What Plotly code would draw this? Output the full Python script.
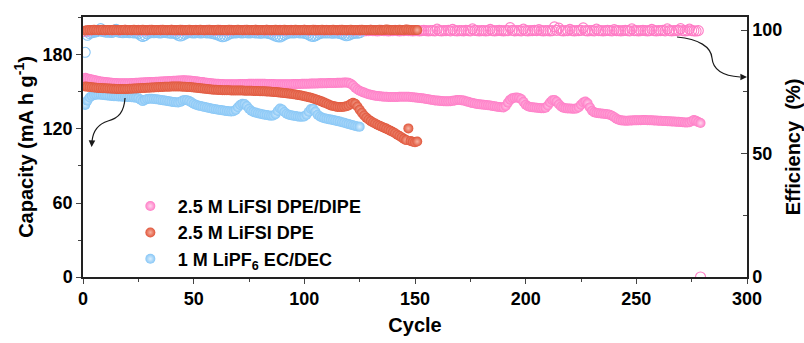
import plotly.graph_objects as go

# ---------------- data ----------------
# 2.5 M LiFSI DPE/DIPE : discharge capacity (mA h g-1) and coulombic efficiency (%)
cap_dipe = [
    161.5, 161.0, 160.5, 160.1, 159.7, 159.3, 158.9, 158.6, 158.3, 158.0,
    157.8, 157.6, 157.4, 157.3, 157.2, 157.1, 157.0, 157.0, 157.0, 157.0,
    157.1, 157.2, 157.3, 157.4, 157.5, 157.6, 157.7, 157.8, 157.9, 158.0,
    158.1, 158.2, 158.3, 158.4, 158.5, 158.6, 158.7, 158.8, 158.9, 159.0,
    159.1, 159.2, 159.3, 159.4, 159.5, 159.5, 159.4, 159.3, 159.1, 158.9,
    158.7, 158.5, 158.2, 158.0, 157.7, 157.5, 157.3, 157.1, 156.9, 156.7,
    156.6, 156.5, 156.4, 156.3, 156.2, 156.2, 156.2, 156.2, 156.3, 156.3,
    156.4, 156.4, 156.5, 156.5, 156.6, 156.6, 156.7, 156.7, 156.7, 156.7,
    156.6, 156.6, 156.5, 156.5, 156.4, 156.4, 156.3, 156.3, 156.2, 156.2,
    156.2, 156.2, 156.3, 156.3, 156.4, 156.4, 156.5, 156.5, 156.6, 156.6,
    156.7, 156.7, 156.8, 156.8, 156.9, 156.9, 157.0, 157.0, 157.1, 157.1,
    157.2, 157.2, 157.3, 157.3, 157.4, 157.4, 157.5, 157.6, 157.6, 157.4,
    156.6, 155.2, 153.5, 152.0, 151.0, 150.2, 149.5, 148.8, 148.2, 147.7,
    147.3, 147.0, 146.7, 146.5, 146.3, 146.2, 146.1, 146.0, 146.0, 146.0,
    146.0, 146.0, 146.1, 146.1, 146.2, 146.2, 146.1, 146.0, 145.8, 145.6,
    145.4, 145.2, 145.0, 144.7, 144.4, 144.1, 143.8, 143.5, 143.2, 143.0,
    142.8, 142.6, 142.5, 142.4, 142.4, 142.5, 142.8, 143.2, 143.5, 143.6,
    143.4, 143.0, 142.5, 142.0, 141.5, 141.0, 140.6, 140.3, 140.0, 139.8,
    139.6, 139.4, 139.2, 139.0, 138.7, 138.4, 138.1, 137.8, 137.6, 137.5,
    138.6, 141.4, 143.8, 145.0, 145.4, 145.5, 145.2, 144.2, 142.0, 139.6,
    138.4, 137.9, 137.6, 137.4, 137.2, 137.0, 136.9, 136.8, 137.2, 139.0,
    141.5, 143.3, 143.5, 142.2, 140.0, 138.2, 137.3, 136.9, 136.7, 136.6,
    136.5, 136.5, 136.7, 137.6, 139.6, 141.5, 142.2, 140.8, 137.5, 134.8,
    133.5, 133.0, 132.8, 132.6, 132.4, 132.2, 132.0, 131.6, 130.8, 129.6,
    128.4, 127.5, 127.0, 126.8, 126.7, 126.7, 126.8, 126.9, 127.0, 127.0,
    127.1, 127.1, 127.2, 127.2, 127.1, 127.1, 127.0, 126.9, 126.8, 126.7,
    126.6, 126.5, 126.4, 126.3, 126.2, 126.1, 126.0, 125.9, 125.8, 125.6,
    125.5, 125.3, 125.2, 125.4, 126.3, 127.2, 126.6, 125.6, 124.8,
]
eff_dipe = [
    99.4, 99.6, 99.7, 99.7, 99.8, 99.7, 99.8, 99.8, 99.7, 99.8,
    99.8, 99.7, 99.8, 99.9, 99.8, 99.7, 99.8, 99.8, 99.9, 99.8,
    99.7, 99.8, 99.8, 99.7, 99.9, 99.8, 99.8, 99.7, 99.8, 99.9,
    99.8, 99.8, 99.7, 99.8, 99.9, 99.8, 99.7, 99.8, 99.8, 99.9,
    99.8, 99.7, 99.8, 99.8, 99.9, 99.8, 99.8, 99.7, 99.8, 99.8,
    99.9, 99.8, 99.7, 99.8, 99.8, 99.9, 99.8, 99.7, 99.8, 99.8,
    99.8, 99.9, 99.8, 99.7, 99.8, 99.8, 99.9, 99.8, 99.8, 99.7,
    99.8, 99.8, 99.9, 99.8, 99.7, 99.8, 99.8, 99.9, 99.8, 99.8,
    99.7, 99.8, 99.9, 99.8, 99.8, 99.7, 99.8, 99.8, 99.9, 99.8,
    99.8, 99.7, 99.8, 99.9, 99.8, 99.8, 99.7, 99.8, 99.8, 99.9,
    99.8, 99.7, 99.8, 99.8, 99.9, 99.8, 99.8, 99.7, 99.8, 99.9,
    99.8, 99.8, 99.7, 99.8, 99.8, 99.9, 99.8, 99.7, 99.8, 99.8,
    99.6, 99.7, 99.8, 99.8, 99.9, 99.8, 99.7, 99.8, 99.8, 99.9,
    99.8, 99.8, 99.7, 99.8, 99.9, 99.8, 99.8, 99.7, 99.8, 99.8,
    99.9, 99.8, 99.7, 99.8, 99.8, 99.9, 99.8, 99.8, 99.7, 99.8,
    99.8, 99.7, 99.8, 99.9, 99.8, 99.7, 99.8, 99.8, 99.7, 100.4,
    99.8, 99.7, 99.8, 99.8, 99.9, 99.7, 100.3, 99.8, 99.7, 99.8,
    99.8, 99.7, 99.9, 99.8, 99.7, 100.5, 99.9, 99.8, 99.7, 99.8,
    99.8, 99.7, 99.8, 100.3, 99.8, 99.7, 99.8, 99.9, 99.8, 99.7,
    99.8, 99.8, 101.0, 99.9, 99.7, 99.8, 99.8, 99.7, 100.4, 99.8,
    99.7, 99.8, 99.8, 99.9, 99.8, 100.2, 99.8, 99.7, 99.8, 99.8,
    99.7, 99.8, 101.3, 99.9, 100.8, 99.8, 99.7, 99.8, 99.8, 100.3,
    99.8, 99.7, 99.8, 99.8, 99.9, 100.9, 99.8, 99.7, 99.8, 99.8,
    99.7, 100.4, 99.8, 99.8, 99.7, 99.8, 99.9, 99.8, 99.7, 100.2,
    99.8, 99.8, 99.7, 99.8, 99.9, 99.8, 99.7, 100.5, 99.8, 99.8,
    99.7, 99.8, 99.9, 99.8, 99.7, 99.8, 100.3, 99.8, 99.7, 99.8,
    99.8, 99.9, 99.7, 100.5, 99.8, 99.7, 99.8, 99.8, 99.9, 100.6,
    99.8, 99.7, 99.8, 100.4, 99.8, 99.7, 99.6, 99.8, 0.0,
]

# 2.5 M LiFSI DPE
cap_dpe = [
    154.5, 154.2, 154.0, 153.8, 153.6, 153.4, 153.3, 153.2, 153.1, 153.0,
    152.9, 152.8, 152.7, 152.6, 152.5, 152.5, 152.4, 152.4, 152.5, 152.5,
    152.6, 152.7, 152.8, 152.9, 153.0, 153.1, 153.2, 153.3, 153.4, 153.5,
    153.6, 153.7, 153.8, 153.9, 154.0, 154.1, 154.2, 154.3, 154.3, 154.4,
    154.4, 154.5, 154.5, 154.4, 154.3, 154.2, 154.1, 154.0, 153.8, 153.6,
    153.4, 153.2, 153.0, 152.8, 152.6, 152.4, 152.2, 152.0, 151.9, 151.8,
    151.7, 151.6, 151.5, 151.5, 151.4, 151.4, 151.3, 151.3, 151.3, 151.2,
    151.2, 151.2, 151.1, 151.1, 151.0, 151.0, 150.9, 150.8, 150.8, 150.7,
    150.6, 150.5, 150.4, 150.3, 150.2, 150.0, 149.9, 149.7, 149.5, 149.3,
    149.1, 148.9, 148.7, 148.5, 148.2, 147.9, 147.6, 147.3, 147.0, 146.6,
    146.2, 145.8, 145.3, 144.8, 144.2, 143.6, 142.9, 142.2, 141.4, 140.6,
    139.8, 139.1, 138.6, 138.2, 137.9, 137.8, 137.8, 138.0, 138.4, 139.1,
    140.2, 141.3, 140.5, 138.2, 135.6, 133.2, 131.0, 129.2, 127.7, 126.4,
    125.3, 124.4, 123.5, 122.7, 121.9, 121.1, 120.3, 119.4, 118.5, 117.5,
    116.5, 115.4, 114.3, 113.2, 112.0, 111.0, 120.5, 110.3, 109.6, 109.2,
    109.8,
]
eff_dpe = [
    99.8, 99.9, 100.0, 99.9, 100.1, 100.0, 99.9, 100.0, 100.1, 99.9,
    100.0, 100.0, 99.9, 100.1, 100.0, 99.9, 100.0, 100.0, 100.1, 99.9,
    100.0, 99.9, 100.1, 100.0, 99.9, 100.0, 100.1, 100.0, 99.9, 100.0,
    100.1, 99.9, 100.0, 100.0, 99.9, 100.1, 100.0, 99.9, 100.0, 100.1,
    100.0, 99.9, 100.0, 100.1, 99.9, 100.0, 100.0, 100.1, 99.9, 100.0,
    100.0, 99.9, 100.1, 100.0, 99.9, 100.0, 100.1, 100.0, 99.9, 100.0,
    100.1, 99.9, 100.0, 100.0, 99.9, 100.1, 100.0, 99.9, 100.0, 100.1,
    100.0, 99.9, 100.0, 100.1, 99.9, 100.0, 100.0, 100.1, 99.9, 100.0,
    100.0, 99.9, 100.1, 100.0, 99.9, 100.0, 100.1, 100.0, 99.9, 100.0,
    100.1, 99.9, 100.0, 100.0, 99.9, 100.1, 100.0, 99.9, 100.0, 100.1,
    100.0, 99.9, 100.0, 100.1, 99.9, 100.0, 100.0, 100.1, 99.9, 100.0,
    100.0, 99.9, 100.1, 100.0, 99.9, 100.0, 100.1, 100.0, 99.9, 100.0,
    100.1, 99.9, 100.0, 100.0, 99.9, 100.1, 100.0, 99.9, 100.0, 100.1,
    100.0, 99.9, 100.0, 100.1, 99.9, 100.0, 100.2, 100.1, 99.9, 100.0,
    100.0, 99.9, 100.1, 100.0, 99.9, 100.2, 100.1, 100.0, 99.9, 100.0,
    100.0,
]

# 1 M LiPF6 EC/DEC
cap_lipf6 = [
    139.5, 143.0, 145.5, 146.8, 147.5, 147.8, 147.9, 147.8, 147.6, 147.4,
    147.2, 147.0, 146.8, 146.6, 146.5, 146.4, 146.3, 146.2, 146.1, 146.0,
    145.9, 145.8, 145.6, 145.4, 145.0, 143.8, 142.6, 143.6, 144.4, 144.6,
    144.5, 144.3, 144.1, 143.9, 143.6, 143.3, 143.0, 142.7, 142.4, 142.1,
    141.8, 141.6, 141.5, 142.0, 143.0, 143.6, 143.4, 142.6, 141.6, 140.5,
    139.7, 139.1, 138.6, 138.2, 137.8, 137.4, 137.0, 136.6, 136.3, 136.0,
    135.7, 135.4, 135.1, 134.8, 134.5, 134.3, 134.2, 134.4, 135.5, 137.6,
    139.5, 140.4, 140.2, 138.6, 136.4, 134.8, 133.9, 133.3, 132.8, 132.4,
    132.0, 131.6, 131.3, 131.0, 130.8, 130.9, 132.0, 134.6, 136.6, 135.8,
    133.8, 132.4, 131.6, 131.1, 130.8, 130.5, 130.2, 130.0, 129.9, 130.2,
    131.5, 134.0, 136.2, 136.4, 134.2, 131.6, 130.1, 129.3, 128.8, 128.4,
    128.0, 127.6, 127.2, 126.8, 126.4, 126.0, 125.5, 125.0, 124.5, 124.0,
    123.5, 123.0, 122.5, 122.1, 121.8,
]
eff_lipf6 = [
    91.0, 97.9, 98.6, 98.9, 99.1, 99.3, 99.6, 100.6, 99.4, 99.2,
    99.1, 99.2, 99.0, 99.3, 100.3, 99.2, 99.0, 98.9, 99.1, 99.0,
    98.9, 99.0, 98.8, 98.9, 98.6, 97.9, 97.4, 97.8, 98.5, 98.8,
    99.0, 98.9, 99.1, 98.9, 98.8, 99.0, 99.1, 98.9, 98.8, 98.7,
    98.8, 98.5, 97.9, 97.6, 97.9, 98.4, 98.8, 99.0, 98.9, 98.8,
    98.9, 99.0, 98.8, 98.9, 99.0, 98.8, 98.9, 98.7, 98.5, 98.3,
    98.0, 97.6, 97.3, 97.5, 97.9, 98.4, 98.7, 98.9, 98.8, 99.0,
    98.9, 98.8, 99.0, 98.9, 98.8, 98.9, 99.0, 98.8, 98.9, 98.7,
    98.8, 98.9, 98.8, 98.6, 98.4, 98.0, 97.6, 97.3, 97.2, 97.6,
    98.1, 98.5, 98.8, 98.9, 98.8, 98.9, 99.0, 98.8, 98.9, 98.7,
    98.5, 98.1, 97.6, 97.4, 97.7, 98.2, 98.6, 98.8, 98.9, 98.8,
    98.9, 98.8, 98.7, 98.9, 98.8, 98.6, 98.4, 98.0, 97.7, 97.9,
    98.3, 98.6, 98.8, 98.7, 98.9,
]

cyc_dipe = list(range(1, len(cap_dipe) + 1))
cyc_dpe = list(range(1, len(cap_dpe) + 1))
cyc_lipf6 = list(range(1, len(cap_lipf6) + 1))

x_ticks = [0, 50, 100, 150, 200, 250, 300]
cap_ticks = [0, 60, 120, 180]
eff_ticks = [0, 50, 100]

# ---------------- styling ----------------
PINK, PINK_HI = "#FF7CC6", "#FFD6EE"
RED, RED_HI = "#E0553A", "#F7B3A2"
BLUE, BLUE_HI = "#86C6F6", "#DCEFFD"
FONT = "Liberation Sans, Arial, Helvetica, sans-serif"
MS = 10


def ball(color, hi, size=MS):
    return dict(symbol="circle", size=size, color=color,
                gradient=dict(type="radial", color=hi), line=dict(width=0))


def ring(color):
    return dict(symbol="circle-open", size=MS, color=color, line=dict(width=1.1, color=color))


fig = go.Figure()

# efficiency (right axis)
fig.add_trace(go.Scatter(x=cyc_dipe, y=eff_dipe, mode="markers", marker=ring(PINK),
                         yaxis="y2", showlegend=False))
fig.add_trace(go.Scatter(x=cyc_lipf6, y=eff_lipf6, mode="markers", marker=ring(BLUE),
                         yaxis="y2", showlegend=False))
fig.add_trace(go.Scatter(x=cyc_dpe, y=eff_dpe, mode="markers", marker=ball(RED, RED_HI),
                         yaxis="y2", showlegend=False))

# capacity (left axis)
fig.add_trace(go.Scatter(x=cyc_lipf6, y=cap_lipf6, mode="markers", marker=ball(BLUE, BLUE_HI),
                         name="1 M LiPF<sub>6</sub> EC/DEC", legendrank=3))
fig.add_trace(go.Scatter(x=cyc_dipe, y=cap_dipe, mode="markers", marker=ball(PINK, PINK_HI),
                         name="2.5 M LiFSI DPE/DIPE", legendrank=1))
fig.add_trace(go.Scatter(x=cyc_dpe, y=cap_dpe, mode="markers", marker=ball(RED, RED_HI),
                         name="2.5 M LiFSI DPE", legendrank=2))

# plot-area geometry in pixels (for the hand-drawn pointer arrows)
L, R, T, B = 83, 747, 17, 277
W, H = R - L, B - T


def px(x, y):
    return f"{(x - L) / W:.4f},{(B - y) / H:.4f}"


arrow_left = (f"M {px(125, 98)} C {px(124, 112)} {px(119, 118)} {px(108, 121)} "
              f"C {px(98, 124)} {px(93, 132)} {px(92, 141)}")
arrow_right = (f"M {px(677, 37)} C {px(699, 39)} {px(711, 47)} {px(712, 58)} "
               f"C {px(713, 70)} {px(724, 76)} {px(740, 77)}")
for p in (arrow_left, arrow_right):
    fig.add_shape(type="path", path=p, xref="paper", yref="paper",
                  line=dict(color="#1a1a1a", width=1.2))

for (tx, ty, ax, ay) in ((91.6, 147, 0.4, -7), (747, 77, -7, 0)):
    fig.add_annotation(x=(tx - L) / W, y=(B - ty) / H, xref="paper", yref="paper",
                       ax=ax, ay=ay, text="", showarrow=True, arrowhead=2,
                       arrowsize=1.1, arrowwidth=1.2, arrowcolor="#1a1a1a", standoff=0)

axis_font = dict(family=FONT, size=18, color="black", weight="bold")
title_font = dict(family=FONT, size=20, color="black", weight="bold")

fig.update_layout(
    width=804, height=343,
    margin=dict(l=L, r=804 - R, t=T, b=343 - B, autoexpand=False),
    paper_bgcolor="white", plot_bgcolor="white",
    font=dict(family=FONT, color="black"),
    xaxis=dict(range=[0, 300], tickvals=x_ticks, ticks="outside", ticklen=5, tickwidth=1.3,
               minor=dict(dtick=25, ticks="outside", ticklen=3, tickwidth=1.1),
               showline=True, linewidth=1.5, linecolor="#222", mirror=True,
               showgrid=False, zeroline=False, tickfont=axis_font, automargin=False,
               title=dict(text="Cycle", font=title_font, standoff=10)),
    yaxis=dict(range=[0, 210.8], tickvals=cap_ticks, ticks="outside", ticklen=5, tickwidth=1.3,
               minor=dict(dtick=30, ticks="outside", ticklen=3, tickwidth=1.1),
               showline=True, linewidth=1.5, linecolor="#222",
               showgrid=False, zeroline=False, tickfont=axis_font, automargin=False,
               title=dict(text="Capacity (mA h g<sup>-1</sup>)", font=title_font, standoff=4)),
    yaxis2=dict(range=[0, 105.3], tickvals=eff_ticks, overlaying="y", side="right",
                ticks="inside", ticklen=6, tickwidth=1.3,
                minor=dict(dtick=25, ticks="inside", ticklen=4, tickwidth=1.1),
                showline=True, linewidth=1.5, linecolor="#222",
                showgrid=False, zeroline=False, tickfont=axis_font, automargin=False,
                title=dict(text="Efficiency  (%)", font=title_font, standoff=10)),
    legend=dict(x=0.06, y=0.343, xanchor="left", yanchor="top",
                bgcolor="rgba(0,0,0,0)", font=dict(family=FONT, size=18, color="black", weight="bold"),
                itemwidth=45, tracegroupgap=0),
    showlegend=True,
)

fig.write_html("out.html")
